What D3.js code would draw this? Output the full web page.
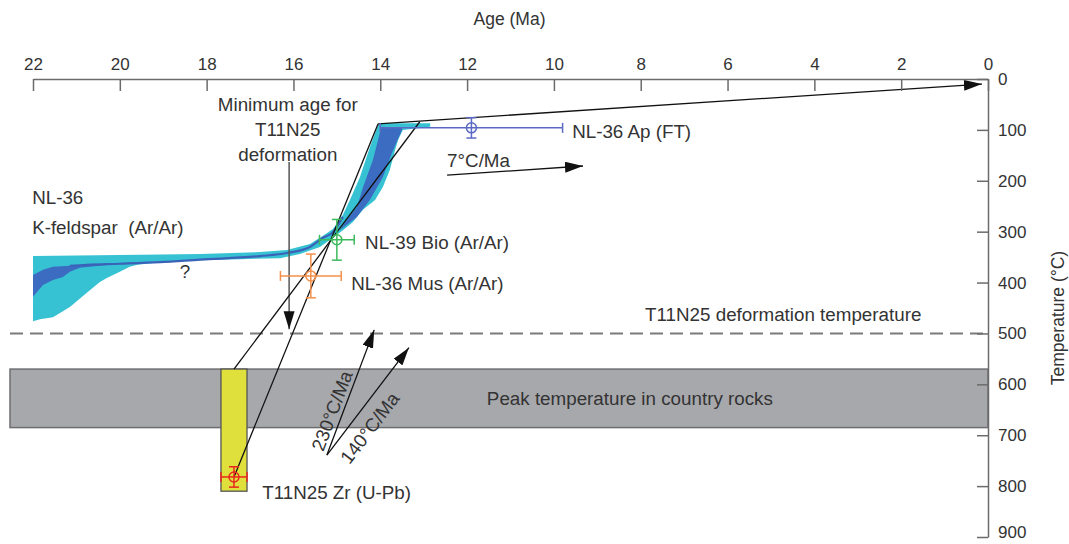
<!DOCTYPE html>
<meta charset="utf-8">
<style>
    body {
        margin: 0;
        background: #fff;
    }

    svg {
        font-family: "Liberation Sans", Arial, sans-serif;
    }

    .axis path,
    .axis line {
        fill: none;
        stroke: #6b6b6b;
        stroke-width: 1.5;
    }

    .axis text {
        fill: #333;
        font-size: 17px;
        font-family: "Liberation Sans", Arial, sans-serif;
    }

    .lbl {
        fill: #333;
        font-size: 18.8px;
    }

    .title {
        fill: #333;
        font-size: 17.5px;
    }
</style>
<body>
<script src="https://d3js.org/d3.v7.min.js"></script>
<script>
    // axes
    const ageTicks = [22, 20, 18, 16, 14, 12, 10, 8, 6, 4, 2, 0];
    const tempTicks = [0, 100, 200, 300, 400, 500, 600, 700, 800, 900];

    // reference lines / zones
    const deformTemp = 500;
    const peakBand = [570, 685];
    const fullAgeSpan = [22.53, 0];
    const zirconBarAge = [17.67, 17.07];
    const zirconBarTemp = [570, 810];

    // single-sample ages (Ma) and temperatures (°C)
    const samples = ["T11N25 Zr (U-Pb)", "NL-39 Bio (Ar/Ar)", "NL-36 Mus (Ar/Ar)", "NL-36 Ap (FT)"];
    const sampleAge = [17.37, 15.0, 15.6, 11.9];
    const sampleAgeErr = [0.3, 0.4, 0.7, 2.1];
    const sampleTemp = [782, 316, 387, 96];
    const sampleTempErr = [20, 40, 43, 20];
    const sampleLabelAt = [[16.72, 812], [14.35, 322], [14.67, 401], [9.58, 104]];

    // NL-36 K-feldspar MDD envelopes [age, temp]
    const kfsOuter = [[22.0, 348], [20.0, 346], [18.15, 344], [16.77, 340], [16.15, 336], [15.62, 324], [15.32, 308],
        [15.09, 295], [14.86, 267], [14.70, 238], [14.47, 193], [14.24, 134], [14.05, 90], [13.89, 87], [12.85, 87],
        [12.85, 94], [13.48, 100], [13.59, 120], [13.66, 140], [13.78, 179], [13.94, 212], [14.12, 238], [14.40, 257],
        [14.63, 281], [14.86, 297], [15.09, 312], [15.39, 330], [15.85, 344], [16.31, 352], [17.23, 354], [18.15, 356],
        [19.07, 360], [19.60, 365], [19.77, 369], [20.00, 379], [20.30, 391], [20.46, 399], [20.76, 420], [21.15, 448],
        [21.54, 468], [21.84, 472], [22.0, 476]];
    const kfsInnerOld = [[22.0, 385], [21.77, 375], [21.54, 369], [21.15, 367], [20.76, 365], [20.0, 363], [20.92, 371],
        [21.15, 379], [21.31, 389], [21.54, 395], [21.77, 405], [22.0, 428]];
    const kfsInnerYoung = [[14.77, 277], [14.54, 252], [14.40, 213], [14.17, 159], [14.01, 106], [13.96, 94], [13.50, 96],
        [13.50, 100], [13.73, 145], [13.94, 193], [14.24, 238], [14.54, 271], [14.93, 297]];
    const kfsMedian = [[21.15, 367], [20.76, 365], [20.0, 363], [19.07, 360], [18.15, 355], [16.77, 348], [16.15, 342],
        [15.62, 330], [15.32, 312], [15.09, 301], [14.86, 271]];

    // interpreted cooling paths
    const pathFromBar = [[17.37, 570], [13.09, 84]];
    const pathFromZircon = [[17.37, 782], [14.05, 88]];
    const pathToSurface = [[14.05, 88], [0.14, 10]];

    // rate arrows: [age0, temp0, age1, temp1]
    const rateArrows = [[12.46, 189, 9.33, 171], [15.23, 739, 14.14, 493], [15.23, 739, 13.34, 528]];
    const minAgeArrow = [[16.1, 163], [16.1, 492]];

    const width = 1069, height = 544;
    const x = d3.scaleLinear().domain([22, 0]).range([33, 988]);
    const y = d3.scaleLinear().domain([0, 900]).range([79, 537]);

    const sampleColor = ["#e8281e", "#3cba5c", "#f5904a", "#5a6ac4"];

    const svg = d3.select("body").append("svg")
        .attr("width", width)
        .attr("height", height);

    svg.append("defs").append("marker")
        .attr("id", "head")
        .attr("markerUnits", "userSpaceOnUse")
        .attr("markerWidth", 20).attr("markerHeight", 12)
        .attr("refX", 18).attr("refY", 5.5)
        .attr("orient", "auto")
        .append("path")
        .attr("d", "M0,0 L18,5.5 L0,11 Z")
        .attr("fill", "#111");

    const line = d3.line().x(d => x(d[0])).y(d => y(d[1]));
    const area = d3.line().x(d => x(d[0])).y(d => y(d[1])).curve(d3.curveLinearClosed);

    // peak temperature band
    svg.append("rect")
        .attr("x", x(fullAgeSpan[0]))
        .attr("y", y(peakBand[0]))
        .attr("width", x(fullAgeSpan[1]) - x(fullAgeSpan[0]))
        .attr("height", y(peakBand[1]) - y(peakBand[0]))
        .attr("fill", "#a7a8ac")
        .attr("stroke", "#6e6e70")
        .attr("stroke-width", 1.5);

    svg.append("text").attr("class", "lbl")
        .attr("x", x(8.25)).attr("y", y(627))
        .attr("text-anchor", "middle").attr("dominant-baseline", "central")
        .text("Peak temperature in country rocks");

    // zircon crystallisation bar
    svg.append("rect")
        .attr("x", x(zirconBarAge[0]))
        .attr("y", y(zirconBarTemp[0]))
        .attr("width", x(zirconBarAge[1]) - x(zirconBarAge[0]))
        .attr("height", y(zirconBarTemp[1]) - y(zirconBarTemp[0]))
        .attr("fill", "#e0e03c")
        .attr("stroke", "#555")
        .attr("stroke-width", 1.3);

    // deformation temperature
    svg.append("line")
        .attr("x1", x(fullAgeSpan[0])).attr("x2", x(fullAgeSpan[1]))
        .attr("y1", y(deformTemp)).attr("y2", y(deformTemp))
        .attr("stroke", "#7a7a7a")
        .attr("stroke-width", 2)
        .attr("stroke-dasharray", "13,7");

    svg.append("text").attr("class", "lbl")
        .attr("x", x(7.9)).attr("y", y(462))
        .attr("dominant-baseline", "central")
        .text("T11N25 deformation temperature");

    // K-feldspar envelopes
    svg.append("path").datum(kfsOuter).attr("d", area).attr("fill", "#36c2d3");
    svg.append("path").datum(kfsInnerOld).attr("d", area).attr("fill", "#3b6cc2");
    svg.append("path").datum(kfsInnerYoung).attr("d", area).attr("fill", "#3b6cc2");
    svg.append("path").datum(kfsMedian)
        .attr("d", line.curve(d3.curveMonotoneX))
        .attr("fill", "none").attr("stroke", "#3a62b8").attr("stroke-width", 2.2);
    line.curve(d3.curveLinear);

    svg.append("text").attr("class", "lbl").attr("x", x(22.02)).attr("y", y(232))
        .attr("dominant-baseline", "central").text("NL-36");
    svg.append("text").attr("class", "lbl").attr("x", x(22.02)).attr("y", y(291))
        .attr("dominant-baseline", "central").attr("xml:space", "preserve").text("K-feldspar  (Ar/Ar)");
    svg.append("text").attr("class", "lbl").attr("x", x(18.5)).attr("y", y(379))
        .attr("text-anchor", "middle").attr("dominant-baseline", "central").text("?");

    // minimum-age arrow
    svg.append("path").datum(minAgeArrow).attr("d", line)
        .attr("stroke", "#555").attr("stroke-width", 1.5).attr("fill", "none")
        .attr("marker-end", "url(#head)");
    ["Minimum age for", "T11N25", "deformation"].forEach((t, i) => {
        svg.append("text").attr("class", "lbl")
            .attr("x", x(16.13)).attr("y", y([51, 100, 149][i]))
            .attr("text-anchor", "middle").attr("dominant-baseline", "central")
            .text(t);
    });

    // cooling paths
    [pathFromBar, pathFromZircon].forEach(p => {
        svg.append("path").datum(p).attr("d", line)
            .attr("stroke", "#111").attr("stroke-width", 1.3).attr("fill", "none");
    });
    svg.append("path").datum(pathToSurface).attr("d", line)
        .attr("stroke", "#111").attr("stroke-width", 1.3).attr("fill", "none")
        .attr("marker-end", "url(#head)");

    // rate arrows
    svg.selectAll(".rate")
        .data(rateArrows)
        .enter().append("line")
        .attr("class", "rate")
        .attr("x1", d => x(d[0])).attr("y1", d => y(d[1]))
        .attr("x2", d => x(d[2])).attr("y2", d => y(d[3]))
        .attr("stroke", "#111").attr("stroke-width", 1.3)
        .attr("marker-end", "url(#head)");

    svg.append("text").attr("class", "lbl")
        .attr("x", x(12.46)).attr("y", y(161))
        .attr("dominant-baseline", "central").text("7°C/Ma");

    function angleOf(d) {
        return Math.atan2(y(d[3]) - y(d[1]), x(d[2]) - x(d[0])) * 180 / Math.PI;
    }
    [[rateArrows[1], [15.11, 652], "230°C/Ma"], [rateArrows[2], [14.24, 686], "140°C/Ma"]].forEach(r => {
        svg.append("text").attr("class", "lbl")
            .attr("text-anchor", "middle").attr("dominant-baseline", "central")
            .attr("transform", "translate(" + x(r[1][0]) + "," + y(r[1][1]) + ") rotate(" + angleOf(r[0]) + ")")
            .text(r[2]);
    });

    // samples with error bars
    const pts = svg.selectAll(".sample")
        .data(samples)
        .enter().append("g")
        .attr("class", "sample")
        .attr("stroke", (d, i) => sampleColor[i])
        .attr("stroke-width", 1.5)
        .attr("fill", "none");

    pts.append("line")
        .attr("x1", (d, i) => x(sampleAge[i] + sampleAgeErr[i]))
        .attr("x2", (d, i) => x(sampleAge[i] - sampleAgeErr[i]))
        .attr("y1", (d, i) => y(sampleTemp[i])).attr("y2", (d, i) => y(sampleTemp[i]));
    pts.append("line")
        .attr("x1", (d, i) => x(sampleAge[i])).attr("x2", (d, i) => x(sampleAge[i]))
        .attr("y1", (d, i) => y(sampleTemp[i] - sampleTempErr[i]))
        .attr("y2", (d, i) => y(sampleTemp[i] + sampleTempErr[i]));
    [-1, 1].forEach(s => {
        pts.append("line")
            .attr("x1", (d, i) => x(sampleAge[i] + s * sampleAgeErr[i]))
            .attr("x2", (d, i) => x(sampleAge[i] + s * sampleAgeErr[i]))
            .attr("y1", (d, i) => y(sampleTemp[i]) - 5).attr("y2", (d, i) => y(sampleTemp[i]) + 5);
        pts.append("line")
            .attr("x1", (d, i) => x(sampleAge[i]) - 5).attr("x2", (d, i) => x(sampleAge[i]) + 5)
            .attr("y1", (d, i) => y(sampleTemp[i] + s * sampleTempErr[i]))
            .attr("y2", (d, i) => y(sampleTemp[i] + s * sampleTempErr[i]));
    });
    pts.append("circle")
        .attr("cx", (d, i) => x(sampleAge[i])).attr("cy", (d, i) => y(sampleTemp[i]))
        .attr("r", 5);

    svg.selectAll(".slabel")
        .data(samples)
        .enter().append("text")
        .attr("class", "lbl slabel")
        .attr("x", (d, i) => x(sampleLabelAt[i][0]))
        .attr("y", (d, i) => y(sampleLabelAt[i][1]))
        .attr("dominant-baseline", "central")
        .text(d => d);

    // axes
    svg.append("g")
        .attr("class", "axis")
        .attr("transform", "translate(0," + y(0) + ")")
        .call(d3.axisTop(x).tickValues(ageTicks).tickSizeInner(-12).tickSizeOuter(0).tickPadding(9));

    const yAxis = svg.append("g")
        .attr("class", "axis")
        .attr("transform", "translate(" + x(0) + ",0)")
        .call(d3.axisRight(y).tickValues(tempTicks).tickSizeInner(-11).tickSizeOuter(0).tickPadding(10));
    // keep the last label inside the picture
    yAxis.selectAll(".tick text").filter(d => d === 900).attr("dy", "0.02em");

    svg.append("text").attr("class", "title")
        .attr("x", (x(22) + x(0)) / 2 - 1).attr("y", 19)
        .attr("text-anchor", "middle").attr("dominant-baseline", "central")
        .text("Age (Ma)");

    svg.append("text").attr("class", "title")
        .attr("transform", "translate(1058,318) rotate(-90)")
        .attr("text-anchor", "middle").attr("dominant-baseline", "central")
        .text("Temperature (°C)");
</script>
</body>
